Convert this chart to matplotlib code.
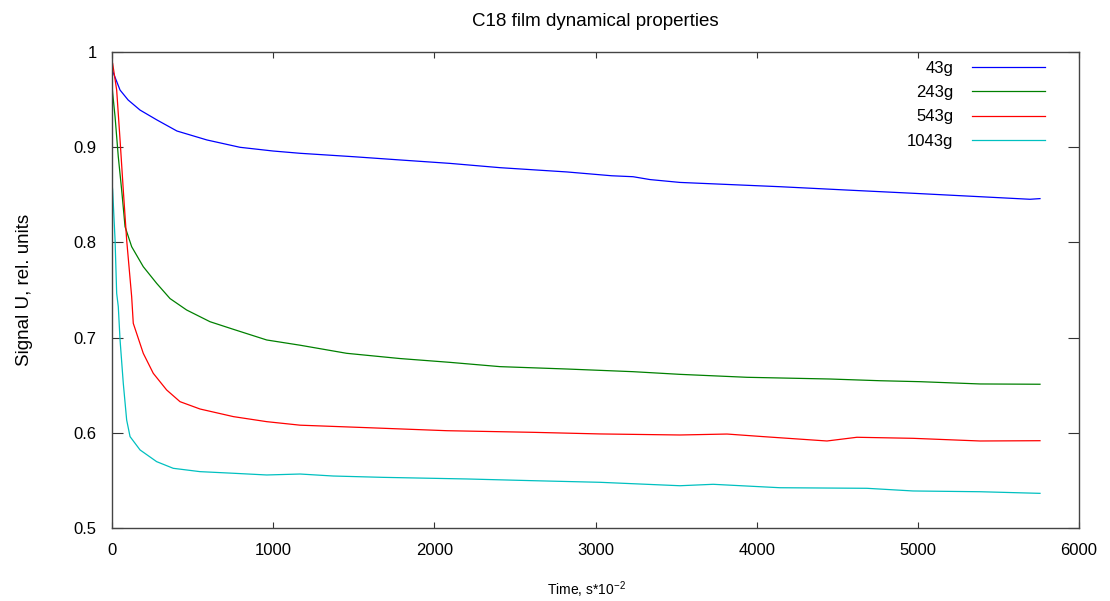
import matplotlib
matplotlib.use("Agg")
import matplotlib.pyplot as plt

plt.rcParams['font.family'] = ['Liberation Sans', 'DejaVu Sans']
plt.rcParams['mathtext.fontset'] = 'custom'
plt.rcParams['mathtext.rm'] = 'Liberation Sans'
plt.rcParams['mathtext.default'] = 'regular'

# Signal decay of the C18 film under different loads
t_43 = [0, 6, 50, 100, 174, 279, 403, 589, 794, 999, 1167, 1500, 1787, 2097, 2407,
        2823, 3100, 3233, 3338, 3524, 3800, 4145, 4559, 4970, 5386, 5696, 5758]
u_43 = [0.981, 0.979, 0.960, 0.9496, 0.939, 0.9286, 0.917, 0.9076, 0.8999, 0.896, 0.8936,
        0.890, 0.8866, 0.883, 0.8785, 0.874, 0.870, 0.869, 0.866, 0.863, 0.861, 0.8585,
        0.855, 0.8516, 0.848, 0.8453, 0.846]

t_243 = [0, 4, 19, 39, 60, 81, 122, 194, 277, 360, 463, 608, 753, 960, 1167, 1456,
         1787, 2097, 2407, 2823, 3233, 3524, 3940, 4455, 4765, 5013, 5386, 5758]
u_243 = [0.965, 0.957, 0.932, 0.890, 0.855, 0.8165, 0.7955, 0.7745, 0.757, 0.741, 0.729,
         0.7167, 0.7087, 0.6975, 0.692, 0.6835, 0.678, 0.674, 0.6695, 0.667, 0.6642,
         0.6614, 0.6583, 0.6565, 0.6547, 0.6537, 0.6513, 0.651]

t_543 = [0, 4, 29, 50, 70, 91, 122, 132, 194, 256, 339, 422, 546, 753, 960, 1167, 1582,
         2079, 2612, 3028, 3524, 3816, 4039, 4436, 4622, 4970, 5386, 5758]
u_543 = [0.990, 0.988, 0.960, 0.9076, 0.855, 0.8025, 0.743, 0.715, 0.6835, 0.6625, 0.645,
         0.6327, 0.625, 0.617, 0.6117, 0.608, 0.6054, 0.6022, 0.6005, 0.5988, 0.5977,
         0.5987, 0.596, 0.5914, 0.5953, 0.5942, 0.5914, 0.5917]

t_1043 = [0, 4, 19, 29, 39, 50, 70, 91, 112, 174, 277, 380, 546, 753, 960, 1167, 1373,
          1682, 2203, 2612, 3028, 3524, 3730, 4145, 4684, 4970, 5386, 5758]
u_1043 = [0.862, 0.855, 0.8025, 0.7465, 0.7325, 0.6975, 0.652, 0.6134, 0.596, 0.582,
          0.5697, 0.5627, 0.5592, 0.5575, 0.5557, 0.5567, 0.5546, 0.5532, 0.5515, 0.5497,
          0.548, 0.5444, 0.5459, 0.5423, 0.5417, 0.5389, 0.5381, 0.5364]

labels = ["43g", "243g", "543g", "1043g"]
colors = ["#0000ff", "#008000", "#ff0000", "#00c0c0"]
x_ticks = [0, 1000, 2000, 3000, 4000, 5000, 6000]
y_ticks = [0.5, 0.6, 0.7, 0.8, 0.9, 1.0]
y_tick_labels = ["0.5", "0.6", "0.7", "0.8", "0.9", "1"]

fig = plt.figure(figsize=(11.1, 6.01), dpi=100)
ax = fig.add_axes([112 / 1110, 1 - 528 / 601, (1079 - 112) / 1110, (528 - 52) / 601])

series = [(t_43, u_43), (t_243, u_243), (t_543, u_543), (t_1043, u_1043)]
for (t, u), lab, col in zip(series, labels, colors):
    ax.plot(t, u, color=col, lw=0.9, label=lab)

ax.set_xlim(0, 6000)
ax.set_ylim(0.5, 1.0)
ax.set_xticks(x_ticks)
ax.set_xticklabels([str(v) for v in x_ticks])
ax.set_yticks(y_ticks)
ax.set_yticklabels(y_tick_labels)
ax.tick_params(direction='in', width=0.8, top=True, right=True,
               labelsize=12, pad=11, colors='#333333', labelcolor='black')
ax.tick_params(axis='x', length=4.5)
ax.tick_params(axis='y', length=8)
for sp in ax.spines.values():
    sp.set_color('#444444')
    sp.set_linewidth(1.0)

ax.set_title("C18 film dynamical properties", fontsize=13.5, pad=19)
ax.set_ylabel("Signal U, rel. units", fontsize=13.5, labelpad=29)
fig.text(586 / 1110, 6 / 601, r"Time, s*10$^{-2}$", fontsize=10, ha='center', va='baseline')

leg = ax.legend(loc='upper right', frameon=False, markerfirst=False, fontsize=12,
                handlelength=4.4, labelspacing=0.55, handletextpad=1.1,
                borderaxespad=0.0, bbox_to_anchor=(0.972, 0.995))

fig.savefig("out.png", dpi=100)
